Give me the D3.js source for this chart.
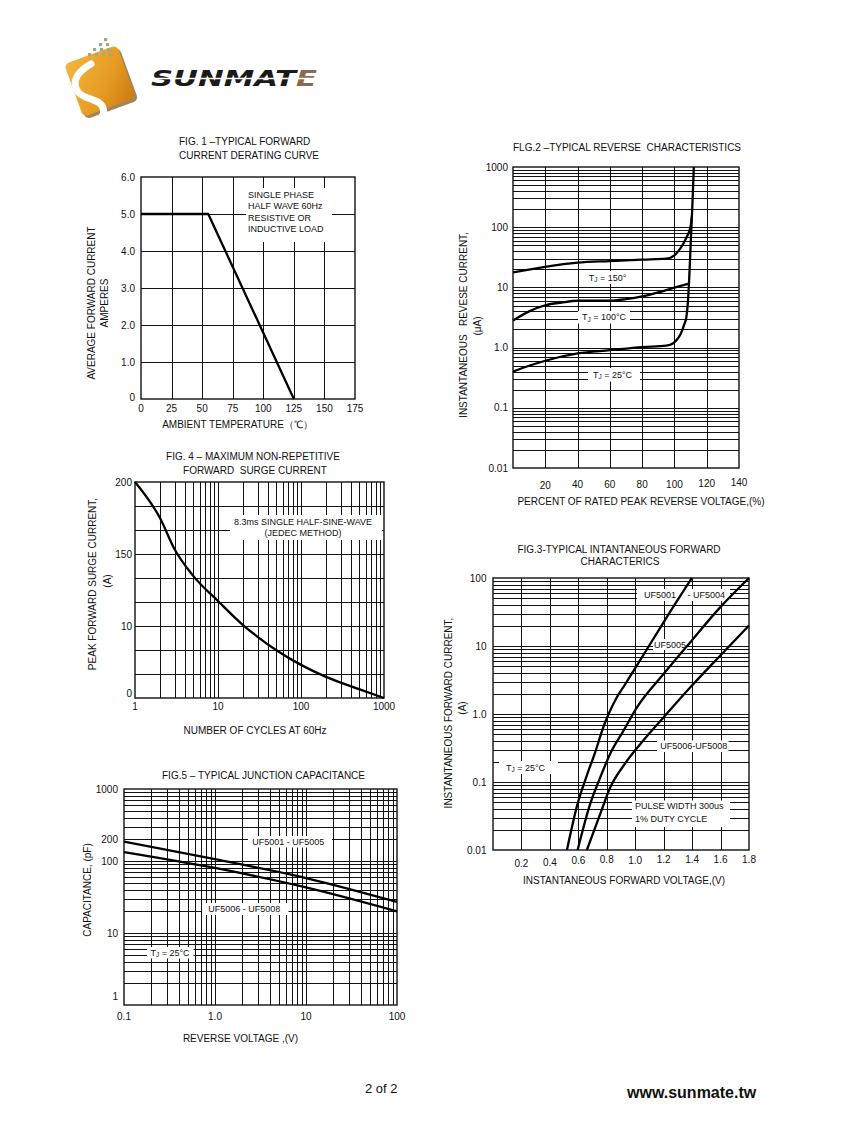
<!DOCTYPE html>
<html><head><meta charset="utf-8">
<script src="https://cdn.jsdelivr.net/npm/d3@7"></script>
<style>
body{margin:0;background:#fff;}
svg{display:block;font-family:"Liberation Sans",Arial,sans-serif;}
text{fill:#111;}
</style></head><body>
<svg id="c" width="847" height="1125"></svg>
<script>
// ---------------- DATA ----------------
// Fig.1 forward current derating
const fig1Temp = [0, 55, 125];
const fig1Current = [5.0, 5.0, 0];
const fig1XTicks = [0, 25, 50, 75, 100, 125, 150, 175];
const fig1YTicks = [0, 1, 2, 3, 4, 5, 6];
const fig1YLabels = ["0", "1.0", "2.0", "3.0", "4.0", "5.0", "6.0"];
const fig1Note = ["SINGLE PHASE", "HALF WAVE 60Hz", "RESISTIVE OR", "INDUCTIVE LOAD"];

// Fig.2 reverse characteristics (percent of rated PRV, µA)
const fig2XTicks = [20, 40, 60, 80, 100, 120, 140];
const fig2YTicks = [0.01, 0.1, 1, 10, 100, 1000];
const fig2YLabels = ["0.01", "0.1", "1.0", "10", "100", "1000"];
const rev25Pct = [0, 10, 20, 40, 60, 80, 95, 99, 102, 104, 106, 107.4, 108.3, 109, 109.8, 110.5, 111.3, 112];
const rev25uA  = [0.40, 0.50, 0.605, 0.80, 0.905, 1.02, 1.08, 1.17, 1.4, 1.71, 2.4, 3.2, 5.5, 11.5, 35, 100, 300, 1000];
const rev100Pct = [0, 10, 20, 30, 40, 60, 70, 80, 90, 100, 108.4];
const rev100uA  = [2.82, 4.0, 5.05, 5.6, 6.0, 6.0, 6.4, 7.1, 8.3, 9.9, 11.5];
const rev150Pct = [0, 20, 40, 60, 80, 95, 100, 103, 105.3, 107.5, 109, 110.2, 110.8];
const rev150uA  = [17.8, 22, 25.7, 27.4, 29, 30, 34, 42, 52, 68, 83, 110, 150];

// Fig.3 forward characteristics (V, A)
const fig3XTicks = [0.2, 0.4, 0.6, 0.8, 1.0, 1.2, 1.4, 1.6, 1.8];
const fig3YTicks = [0.01, 0.1, 1, 10, 100];
const fig3YLabels = ["0.01", "0.1", "1.0", "10", "100"];
const fwd5001V = [0.52, 0.595, 0.66, 0.72, 0.778, 0.813, 0.871, 0.93, 0.988, 1.105, 1.246, 1.398];
const fwd5001A = [0.01, 0.048, 0.125, 0.28, 0.66, 1.0, 1.76, 2.75, 4.3, 10.7, 32, 100];
const fwd5005V = [0.595, 0.684, 0.754, 0.824, 0.918, 1.012, 1.199, 1.386, 1.597, 1.8];
const fwd5005A = [0.01, 0.048, 0.117, 0.26, 0.57, 1.25, 3.87, 11.3, 37, 100];
const fwd5006V = [0.66, 0.754, 0.824, 0.918, 1.035, 1.199, 1.386, 1.597, 1.8];
const fwd5006A = [0.01, 0.034, 0.083, 0.174, 0.36, 0.89, 2.45, 7.2, 20];

// Fig.4 surge current (cycles, grid divisions of the printed axis)
const fig4XTicks = [1, 10, 100, 1000];
const fig4YTickPos = [9, 6, 3, 0];
const fig4YLabels = ["200", "150", "10", "0"];
const surgeCycles = [1, 2, 3, 5, 10, 20, 30, 50, 100, 200, 500, 1000];
const surgeLevel  = [9, 7.5, 6.2, 5.1, 4.04, 3.04, 2.55, 2.0, 1.38, 0.88, 0.37, 0];

// Fig.5 junction capacitance (V, pF)
const fig5XTicks = [0.1, 1, 10, 100];
const fig5XLabels = ["0.1", "1.0", "10", "100"];
const fig5YTicks = [1000, 200, 100, 10, 1];
const fig5YLabels = ["1000", "200", "100", "10", "1"];
const capVolt = [0.1, 1, 10, 100];
const cap5001 = [186, 106, 58, 27];
const cap5006 = [133, 80, 43, 20];

// ---------------- DRAW ----------------
const svg = d3.select("#c");
const INK = "#111";

function logGrid(lo, hi) {
  const out = [];
  for (let e = Math.floor(Math.log10(lo)); e <= Math.ceil(Math.log10(hi)); e++)
    for (let k = 1; k < 10; k++) {
      const v = k * Math.pow(10, e);
      if (v > lo * 1.001 && v < hi * 0.999) out.push(v);
    }
  return out;
}

function txt(g, x, y, s, o = {}) {
  const t = g.append("text").attr("x", x).attr("y", y)
    .attr("font-size", o.size || 10)
    .attr("text-anchor", o.anchor || "start")
    .attr("dominant-baseline", "central")
    .text(s);
  if (o.pre) t.style("white-space", "pre");
  if (o.weight) t.attr("font-weight", o.weight);
  return t;
}
function vtxt(g, x, y, s, size) {
  g.append("text").attr("transform", `translate(${x},${y}) rotate(-90)`)
    .attr("font-size", size || 10).attr("text-anchor", "middle")
    .attr("dominant-baseline", "central").style("white-space", "pre").text(s);
}
function tj(g, cx, cy, rest) {
  const t = g.append("text").attr("x", cx).attr("y", cy).attr("font-size", 9)
    .attr("text-anchor", "middle").attr("dominant-baseline", "central");
  t.append("tspan").text("T");
  t.append("tspan").attr("font-size", 6.5).attr("dy", 1.5).text("J");
  t.append("tspan").attr("dy", -1.5).text(" = " + rest);
}

function panel(p) {
  const g = svg.append("g");
  const [x0, x1] = p.x.range(), [yb, yt] = p.y.range();
  g.append("g").selectAll("line").data(p.vgrid).join("line")
    .attr("x1", d => Math.round(p.x(d)) + 0.5).attr("x2", d => Math.round(p.x(d)) + 0.5)
    .attr("y1", yt).attr("y2", yb).attr("stroke", INK).attr("stroke-width", 1);
  g.append("g").selectAll("line").data(p.hgrid).join("line")
    .attr("y1", d => Math.round(p.y(d)) + 0.5).attr("y2", d => Math.round(p.y(d)) + 0.5)
    .attr("x1", x0).attr("x2", x1).attr("stroke", INK).attr("stroke-width", 1);
  g.append("rect").attr("x", x0).attr("y", yt).attr("width", x1 - x0).attr("height", yb - yt)
    .attr("fill", "none").attr("stroke", INK).attr("stroke-width", 1.4);
  g.append("g").selectAll("rect").data(p.boxes || []).join("rect")
    .attr("x", d => d[0]).attr("y", d => d[1]).attr("width", d => d[2]).attr("height", d => d[3])
    .attr("fill", "#fff");
  p.series.forEach(s => {
    const pts = s.xs.map((v, i) => [v, s.ys[i]]);
    g.append("path").datum(pts)
      .attr("d", d3.line().x(d => p.x(d[0])).y(d => p.y(d[1])).curve(s.curve || d3.curveMonotoneX))
      .attr("fill", "none").attr("stroke", "#000").attr("stroke-width", 2.3)
      .attr("stroke-linejoin", "round");
  });
  // tick labels
  p.xTicks.forEach((v, i) => txt(g, p.x(v), p.xLabelY + (p.xLabelDy ? p.xLabelDy[i] : 0),
    p.xLabels ? p.xLabels[i] : String(v), { anchor: "middle" }));
  p.yTicks.forEach((v, i) => txt(g, p.yLabelX, p.y(v) + (p.yLabelDy ? p.yLabelDy[i] : 0),
    p.yLabels[i], { anchor: "end" }));
  return g;
}

// ---- Fig 1 ----
{
  const x = d3.scaleLinear([0, 175], [141, 355]);
  const y = d3.scaleLinear([0, 6], [399, 177]);
  const g = panel({
    x, y, vgrid: fig1XTicks.slice(1, -1), hgrid: fig1YTicks.slice(1, -1),
    boxes: [[246, 188, 86, 54]],
    series: [{ xs: fig1Temp, ys: fig1Current, curve: d3.curveLinear }],
    xTicks: fig1XTicks, xLabelY: 408,
    yTicks: fig1YTicks, yLabels: fig1YLabels, yLabelX: 135, yLabelDy: [-2, 0, 0, 0, 0, 0, 0]
  });
  fig1Note.forEach((s, i) => txt(g, 248, 194.5 + i * 11.5, s, { size: 9 }));
  txt(g, 179, 141.5, "FIG. 1 –TYPICAL FORWARD");
  txt(g, 179, 155.5, "CURRENT DERATING CURVE");
  txt(g, 237.5, 424, "AMBIENT TEMPERATURE（℃）", { anchor: "middle" });
  vtxt(g, 91, 303, "AVERAGE FORWARD CURRENT");
  vtxt(g, 104, 303, "AMPERES");
}

// ---- Fig 2 ----
{
  const x = d3.scaleLinear([0, 140], [513, 739]);
  const y = d3.scaleLog([0.01, 1000], [468, 167]);
  const g = panel({
    x, y, vgrid: fig2XTicks.slice(0, -1), hgrid: logGrid(0.01, 1000),
    boxes: [[582, 271, 53, 13], [578, 311, 52, 12.5], [588, 368, 52, 13.5]],
    series: [
      { xs: rev150Pct, ys: rev150uA },
      { xs: rev100Pct, ys: rev100uA },
      { xs: rev25Pct, ys: rev25uA }
    ],
    xTicks: fig2XTicks, xLabelY: 484, xLabelDy: [1, 0, 0, 0, 0, -1, -2],
    yTicks: fig2YTicks, yLabels: fig2YLabels, yLabelX: 508
  });
  tj(g, 607.5, 277.7, "150°");
  tj(g, 604, 317, "100°C");
  tj(g, 612.5, 374.5, "25°C");
  txt(g, 513, 147.5, "FLG.2 –TYPICAL REVERSE  CHARACTERISTICS", { pre: true });
  txt(g, 641, 501, "PERCENT OF RATED PEAK REVERSE VOLTAGE,(%)", { anchor: "middle" });
  vtxt(g, 463.5, 325, "INSTANTANEOUS   REVESE CURRENT,");
  vtxt(g, 477, 326, "(μA)");
}

// ---- Fig 3 ----
{
  const x = d3.scaleLinear([0, 1.8], [493, 749]);
  const y = d3.scaleLog([0.01, 100], [850, 578]);
  const g = panel({
    x, y, vgrid: fig3XTicks.slice(0, -1), hgrid: logGrid(0.01, 100),
    boxes: [[637, 589, 93, 12], [653, 639, 34, 11], [657, 740.5, 71.5, 11.5], [499, 761, 59, 13], [632, 800.5, 98, 26.5]],
    series: [
      { xs: fwd5001V, ys: fwd5001A },
      { xs: fwd5005V, ys: fwd5005A },
      { xs: fwd5006V, ys: fwd5006A }
    ],
    xTicks: fig3XTicks, xLabels: fig3XTicks.map(d3.format(".1f")), xLabelY: 860,
    xLabelDy: [3, 2, 0, -1, 0, -1, -1, -1, -1],
    yTicks: fig3YTicks, yLabels: fig3YLabels, yLabelX: 486.5
  });
  txt(g, 644, 595, "UF5001", { size: 9 });
  txt(g, 725, 595, "- UF5004", { size: 9, anchor: "end" });
  txt(g, 670, 644.7, "UF5005", { size: 9, anchor: "middle" });
  txt(g, 693.7, 746.3, "UF5006-UF5008", { size: 9, anchor: "middle" });
  tj(g, 525.5, 767.5, "25°C");
  txt(g, 635, 806, "PULSE WIDTH 300us", { size: 9 });
  txt(g, 635, 818.5, "1% DUTY CYCLE", { size: 9 });
  txt(g, 619, 549, "FIG.3-TYPICAL INTANTANEOUS FORWARD", { anchor: "middle" });
  txt(g, 620, 561.5, "CHARACTERICS", { anchor: "middle" });
  txt(g, 624, 880.5, "INSTANTANEOUS FORWARD VOLTAGE,(V)", { anchor: "middle" });
  vtxt(g, 448.5, 713, "INSTANTANEOUS FORWARD CURRENT,");
  vtxt(g, 462, 708, "(A)");
}

// ---- Fig 4 ----
{
  const x = d3.scaleLog([1, 1000], [135, 384]);
  const y = d3.scaleLinear([0, 9], [698, 482]);
  const g = panel({
    x, y, vgrid: logGrid(1, 1000), hgrid: d3.range(1, 9),
    boxes: [[230, 515, 152, 25]],
    series: [{ xs: surgeCycles, ys: surgeLevel }],
    xTicks: fig4XTicks, xLabelY: 706, xLabelDy: [0, 0, 0, 0],
    yTicks: fig4YTickPos, yLabels: fig4YLabels, yLabelX: 132, yLabelDy: [0, 0, 0, -5]
  });
  txt(g, 303, 521.7, "8.3ms SINGLE HALF-SINE-WAVE", { size: 9, anchor: "middle" });
  txt(g, 303, 532.5, "(JEDEC METHOD)", { size: 9, anchor: "middle" });
  txt(g, 253, 456.7, "FIG. 4 – MAXIMUM NON-REPETITIVE", { anchor: "middle" });
  txt(g, 255, 470, "FORWARD  SURGE CURRENT", { anchor: "middle", pre: true });
  txt(g, 255, 730, "NUMBER OF CYCLES AT 60Hz", { anchor: "middle" });
  vtxt(g, 92.5, 584, "PEAK FORWARD SURGE CURRENT,");
  vtxt(g, 107, 581, "(A)");
}

// ---- Fig 5 ----
{
  const x = d3.scaleLog([0.1, 100], [124, 397]);
  const y = d3.scaleLog([1, 1000], [1005, 789]);
  const g = panel({
    x, y, vgrid: logGrid(0.1, 100), hgrid: logGrid(1, 1000),
    boxes: [[248, 836, 84, 11.5], [202, 903, 86.5, 12], [147, 947, 46.5, 11.5]],
    series: [
      { xs: capVolt, ys: cap5001 },
      { xs: capVolt, ys: cap5006 }
    ],
    xTicks: fig5XTicks, xLabels: fig5XLabels, xLabelY: 1016.7,
    yTicks: fig5YTicks, yLabels: fig5YLabels, yLabelX: 118, yLabelDy: [0, 0, 0, 0, -9]
  });
  txt(g, 288.3, 841.7, "UF5001 - UF5005", { size: 9, anchor: "middle" });
  txt(g, 244.2, 909.3, "UF5006 - UF5008", { size: 9, anchor: "middle" });
  tj(g, 170, 952.7, "25°C");
  txt(g, 263.5, 775, "FIG.5 – TYPICAL JUNCTION CAPACITANCE", { anchor: "middle" });
  txt(g, 240.5, 1038.3, "REVERSE VOLTAGE ,(V)", { anchor: "middle" });
  vtxt(g, 87, 890, "CAPACITANCE, (pF)");
}

// ---- Logo ----
{
  const defs = svg.append("defs");
  const lg = defs.append("linearGradient").attr("id", "og").attr("x1", "0").attr("y1", "0").attr("x2", "1").attr("y2", "1");
  lg.append("stop").attr("offset", "0").attr("stop-color", "#f3b640");
  lg.append("stop").attr("offset", "0.6").attr("stop-color", "#e69a22");
  lg.append("stop").attr("offset", "1").attr("stop-color", "#c97a12");
  const g = svg.append("g");
  g.append("rect").attr("x", -27).attr("y", -26).attr("width", 56).attr("height", 56).attr("rx", 5)
    .attr("fill", "#7a5214").attr("opacity", 0.7).attr("transform", "translate(101,82) rotate(-20)");
  g.append("rect").attr("x", -28).attr("y", -28).attr("width", 56).attr("height", 56).attr("rx", 5)
    .attr("fill", "url(#og)").attr("transform", "translate(100,81) rotate(-20)");
  g.append("path").attr("d", "M91,64 C80,70 70,80 78,92 C84,100 100,98 103,108 C106,116 98,122 92,122")
    .attr("fill", "none").attr("stroke", "#fff").attr("stroke-width", 7).attr("stroke-linecap", "round");
  const dots = [[104,38],[99,43],[106,43],[93,48],[100,48],[107,48],[88,53],[95,53],[102,53],[109,53]];
  g.selectAll("rect.d").data(dots).join("rect").attr("class", "d")
    .attr("x", d => d[0]).attr("y", d => d[1]).attr("width", 3.2).attr("height", 3.2).attr("fill", "#a8a487");
  const t = g.append("text").attr("x", 151).attr("y", 86).attr("font-family", "DejaVu Sans")
    .attr("font-weight", "bold").attr("font-style", "italic").attr("font-size", 21)
    .attr("textLength", 166).attr("lengthAdjust", "spacingAndGlyphs");
  t.append("tspan").style("fill", "#1a1a1a").text("SUNMAT");
  t.append("tspan").style("fill", "#8a6a4c").text("E");
  g.append("line").attr("x1", 148).attr("x2", 320).attr("y1", 78.5).attr("y2", 78.5)
    .attr("stroke", "#fff").attr("stroke-width", 1.4);
}

// ---- Footer ----
txt(svg, 365, 1088.5, "2 of 2", { size: 13 });
txt(svg, 627, 1092, "www.sunmate.tw", { size: 16, weight: "bold" });
</script>
</body></html>
